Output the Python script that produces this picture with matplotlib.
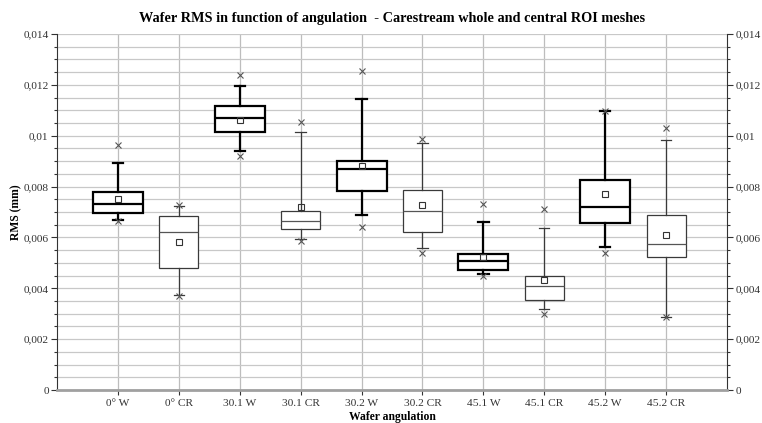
import matplotlib
matplotlib.use("Agg")
import matplotlib.pyplot as plt
from matplotlib.ticker import MultipleLocator

plt.rcParams['font.family'] = ['Liberation Serif', 'DejaVu Serif']

# values in mm
cats = ['0° W', '0° CR', '30.1 W', '30.1 CR', '30.2 W', '30.2 CR',
        '45.1 W', '45.1 CR', '45.2 W', '45.2 CR']
q3 = [0.00779, 0.00686, 0.01118, 0.00704, 0.00902, 0.00788, 0.00535, 0.00447, 0.00824, 0.00687]
med = [0.00730, 0.00621, 0.01068, 0.00663, 0.00870, 0.00705, 0.00508, 0.00410, 0.00719, 0.00573]
q1 = [0.00697, 0.00480, 0.01016, 0.00632, 0.00784, 0.00620, 0.00471, 0.00355, 0.00658, 0.00522]
mean = [0.00751, 0.00581, 0.01063, 0.00718, 0.00880, 0.00726, 0.00524, 0.00431, 0.00772, 0.00611]
whis_hi = [0.00891, 0.00725, 0.01197, 0.01013, 0.01144, 0.00973, 0.00662, 0.00636, 0.01098, 0.00983]
whis_lo = [0.00669, 0.00372, 0.00940, 0.00593, 0.00688, 0.00557, 0.00456, 0.00320, 0.00562, 0.00288]
v_max = [0.00963, 0.00728, 0.01239, 0.01055, 0.01256, 0.00987, 0.00732, 0.00710, 0.01098, 0.01029]
v_min = [0.00666, 0.00368, 0.00919, 0.00587, 0.00642, 0.00538, 0.00450, 0.00298, 0.00538, 0.00286]
ytick_vals = [0, 0.002, 0.004, 0.006, 0.008, 0.01, 0.012, 0.014]
ytick_labels = ['0', '0,002', '0,004', '0,006', '0,008', '0,01', '0,012', '0,014']

fig = plt.figure(figsize=(7.62, 4.23), dpi=100)
ax = fig.add_axes([0.0748, 0.078, 0.8793, 0.8416])

pos = list(range(1, len(cats) + 1))
ax.set_xlim(0, len(cats) + 1)
ax.set_ylim(0, 0.014)

# grid
ax.yaxis.set_minor_locator(MultipleLocator(0.0005))
ax.grid(True, which='both', axis='y', color='#c8c8c8', lw=0.9, zorder=0)
ax.grid(True, which='major', axis='x', color='#bdbdbd', lw=0.9, zorder=0)

for i, p in enumerate(pos):
    is_w = cats[i].endswith('W')
    stats = [{'med': med[i], 'q1': q1[i], 'q3': q3[i],
              'whislo': whis_lo[i], 'whishi': whis_hi[i],
              'mean': mean[i], 'fliers': []}]
    col = 'black' if is_w else '#3a3a3a'
    lw = 1.6 if is_w else 0.9
    ax.bxp(stats, positions=[p], widths=0.82 if is_w else 0.64,
           capwidths=0.17, showmeans=True, showfliers=False,
           patch_artist=True, manage_ticks=False,
           boxprops=dict(facecolor='white', edgecolor=col, lw=lw),
           medianprops=dict(color=col if is_w else '#555555', lw=lw),
           whiskerprops=dict(color=col, lw=lw),
           capprops=dict(color=col, lw=lw),
           meanprops=dict(marker='s', markerfacecolor='none',
                          markeredgecolor='#333333', markersize=5, markeredgewidth=0.8),
           zorder=3)

ax.plot(pos, v_max, ls='none', marker='x', color='#555555', ms=4.5, mew=0.8, zorder=4)
ax.plot(pos, v_min, ls='none', marker='x', color='#555555', ms=4.5, mew=0.8, zorder=4)

ax.set_xticks(pos)
ax.set_xticklabels(cats, fontsize=8.2, color='#333333')
ax.set_yticks(ytick_vals)
ax.set_yticklabels(ytick_labels, fontsize=8.2, color='#333333')
ax.tick_params(axis='y', which='both', right=True, labelright=True, direction='out', pad=2)
ax.tick_params(axis='y', which='major', length=4, width=0.8, color='#333333')
ax.tick_params(axis='y', which='minor', length=2, width=0.8, color='#333333')
ax.tick_params(axis='x', length=3.5, width=0.8, color='#333333', pad=3)

ax.spines['top'].set_visible(False)
ax.spines['left'].set_color('#333333')
ax.spines['right'].set_color('#333333')
ax.spines['bottom'].set_color('#a0a0a0')
ax.spines['bottom'].set_linewidth(2)

ax.set_title('Wafer RMS in function of angulation  - Carestream whole and central ROI meshes',
             fontsize=10.3, fontweight='bold', pad=9)
ax.set_xlabel('Wafer angulation', fontsize=8.4, fontweight='bold', labelpad=2)
ax.set_ylabel('RMS (mm)', fontsize=8.4, fontweight='bold', labelpad=1)

fig.savefig('out.png', dpi=100)
